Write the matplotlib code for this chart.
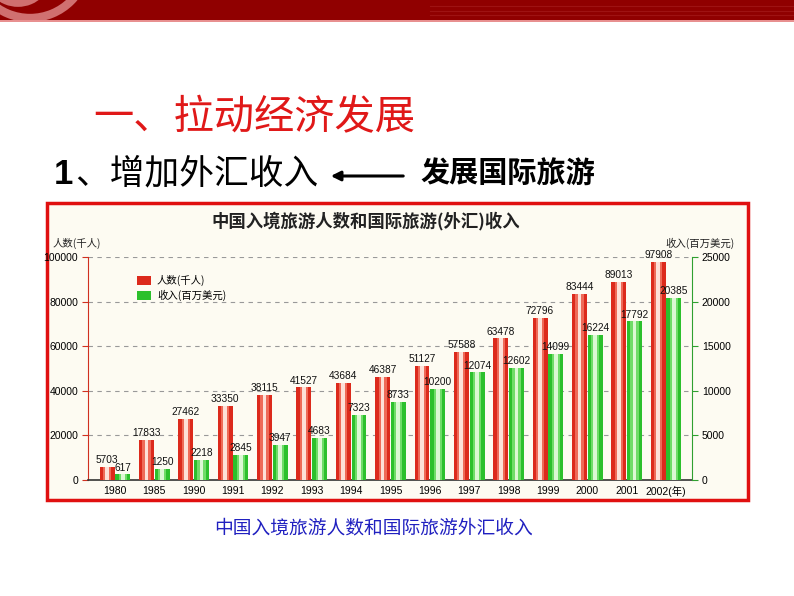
import matplotlib
matplotlib.use('Agg')
import matplotlib.pyplot as plt
from matplotlib.patches import Rectangle, Arc, Patch

plt.rcParams['font.family'] = ['Noto Sans CJK SC', 'DejaVu Sans']

# Data
years = ['1980', '1985', '1990', '1991', '1992', '1993', '1994', '1995',
         '1996', '1997', '1998', '1999', '2000', '2001', '2002(年)']
visitors = [5703, 17833, 27462, 33350, 38115, 41527, 43684, 46387,
            51127, 57588, 63478, 72796, 83444, 89013, 97908]
income = [617, 1250, 2218, 2845, 3947, 4683, 7323, 8733,
          10200, 12074, 12602, 14099, 16224, 17792, 20385]
left_ticks = [0, 20000, 40000, 60000, 80000, 100000]
right_ticks = [0, 5000, 10000, 15000, 20000, 25000]

NUM_FONT = ['Liberation Sans', 'DejaVu Sans']
W, H = 794, 596

fig = plt.figure(figsize=(W / 100, H / 100), dpi=100)
fig.patch.set_facecolor('white')

# Decoration layer in pixel coordinates
deco = fig.add_axes([0, 0, 1, 1], zorder=0)
deco.set_xlim(0, W)
deco.set_ylim(H, 0)
deco.axis('off')

# top banner with ring decoration on the left
banner = Rectangle((0, 0), W, 20, color='#900000', lw=0)
deco.add_patch(banner)
deco.add_patch(Rectangle((0, 20), W, 2, color='#e89090', lw=0))
for yy in (6, 11, 15):
    deco.plot([430, W], [yy, yy], color='#a82020', lw=0.8, alpha=0.6)
for cx, cy, r, lw in [(30, -40, 58, 6), (18, -28, 30, 7)]:
    ring = Arc((cx, cy), 2 * r, 2 * r, color='#d07070', lw=lw)
    deco.add_patch(ring)
    ring.set_clip_path(banner)

# slide headings
deco.text(93, 118, '一、拉动经济发展', color='#e01818', fontsize=29,
          va='center', ha='left')
deco.text(54, 174, '1', color='black', fontsize=25, fontweight='bold',
          family=NUM_FONT, va='center', ha='left')
deco.text(75, 174, '、增加外汇收入', color='black', fontsize=25,
          va='center', ha='left')
deco.annotate('', xy=(328, 176), xytext=(406, 176),
              arrowprops=dict(arrowstyle='-|>', color='black', lw=2.2,
                              mutation_scale=14))
deco.text(420, 174, '发展国际旅游', color='black', fontsize=21,
          fontweight='heavy', style='italic', va='center', ha='left')

# chart frame
deco.add_patch(Rectangle((47, 203), 701, 297, facecolor='#fdfbf2',
                         edgecolor='#e01010', lw=2.5))
deco.text(366, 221, '中国入境旅游人数和国际旅游(外汇)收入', fontsize=12.5,
          fontweight='bold', color='#222222', ha='center', va='center')
deco.text(53, 243, '人数(千人)', fontsize=7.5, color='#222222',
          ha='left', va='center')
deco.text(735, 243, '收入(百万美元)', fontsize=7.5, color='#222222',
          ha='right', va='center')
deco.text(374, 528, '中国入境旅游人数和国际旅游外汇收入', fontsize=13.5,
          color='#2020c0', ha='center', va='center')

# Main chart
ax = fig.add_axes([88 / W, 1 - 480 / H, 604 / W, 223 / H], zorder=2)
ax.patch.set_alpha(0)
ax2 = ax.twinx()
ax2.patch.set_alpha(0)

x = list(range(len(years)))
off, bw = 0.2, 0.38
xr = [i - off for i in x]
xg = [i + off for i in x]

# red bars (left axis) with a light centre stripe
ax.bar(xr, visitors, width=bw, color='#dc2a1c', lw=0, zorder=3)
ax.bar(xr, visitors, width=bw * 0.55, color='#ee6a58', lw=0, zorder=3)
ax.bar(xr, visitors, width=bw * 0.25, color='#fde0d8', lw=0, zorder=3)
# green bars (right axis)
ax2.bar(xg, income, width=bw, color='#2cc02c', lw=0, zorder=3)
ax2.bar(xg, income, width=bw * 0.55, color='#70dc68', lw=0, zorder=3)
ax2.bar(xg, income, width=bw * 0.25, color='#dcf8d4', lw=0, zorder=3)

for xi, v in zip(xr, visitors):
    ax.text(xi, v + 800, str(v), fontsize=7.3, ha='center', va='bottom',
            family=NUM_FONT, color='#111111', zorder=5)
for xi, v in zip(xg, income):
    ax2.text(xi, v + 200, str(v), fontsize=7.3, ha='center', va='bottom',
             family=NUM_FONT, color='#111111', zorder=5)

ax.set_xlim(-0.685, 14.66)
ax.set_ylim(0, 100000)
ax2.set_ylim(0, 25000)

for t in left_ticks[1:]:
    ax.axhline(t, color='#999999', lw=0.8, ls=(0, (4, 4)), zorder=1)

ax.set_xticks(x)
ax.set_xticklabels(years, fontsize=7.5, family=['Liberation Sans', 'Noto Sans CJK SC'])
ax.set_yticks(left_ticks)
ax.set_yticklabels([str(t) for t in left_ticks], fontsize=7.5, family=NUM_FONT)
ax2.set_yticks(right_ticks)
ax2.set_yticklabels([str(t) for t in right_ticks], fontsize=7.5, family=NUM_FONT)
ax.tick_params(axis='x', length=0, pad=4)
ax.tick_params(axis='y', length=4, color='#d03020', pad=3)
ax2.tick_params(axis='y', length=4, color='#30a030', pad=3)

for a in (ax, ax2):
    a.spines['top'].set_visible(False)
ax.spines['right'].set_visible(False)
ax2.spines['left'].set_visible(False)
ax2.spines['bottom'].set_visible(False)
ax.spines['left'].set_color('#d03020')
ax2.spines['right'].set_color('#30a030')
ax.spines['bottom'].set_color('#333333')
ax.spines['bottom'].set_linewidth(1.2)

leg = ax.legend(handles=[Patch(facecolor='#dc2a1c', label='人数(千人)'),
                         Patch(facecolor='#2cc02c', label='收入(百万美元)')],
                loc='upper left', bbox_to_anchor=(132 / W, 1 - 270 / H),
                bbox_transform=fig.transFigure, frameon=False, fontsize=7.5,
                handlelength=1.3, handleheight=1.0, handletextpad=0.6,
                labelspacing=0.35, borderpad=0)

fig.savefig('out.png', dpi=100)
